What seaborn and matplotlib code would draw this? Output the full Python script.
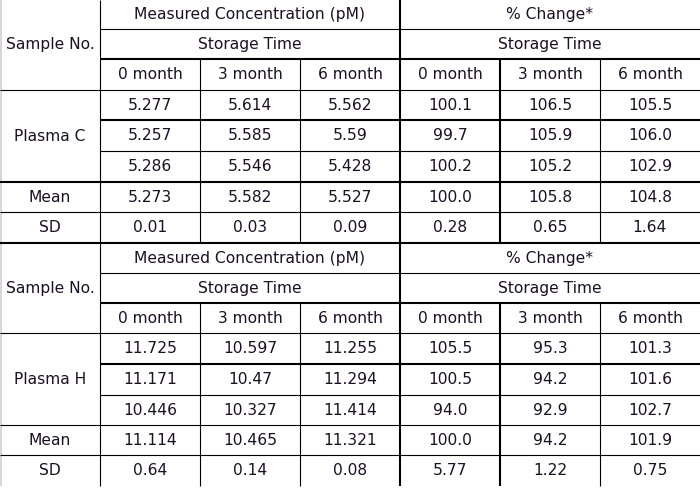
import matplotlib
matplotlib.use("Agg")
import matplotlib.pyplot as plt
import seaborn as sns

# Table content
months = ["0 month", "3 month", "6 month"]
group_titles = ["Measured Concentration (pM)", "% Change*"]
sub_title = "Storage Time"
row_labels = ["Mean", "SD"]

plasma_names = ["Plasma C", "Plasma H"]

conc_c = [["5.277", "5.614", "5.562"],
          ["5.257", "5.585", "5.59"],
          ["5.286", "5.546", "5.428"]]
change_c = [["100.1", "106.5", "105.5"],
            ["99.7", "105.9", "106.0"],
            ["100.2", "105.2", "102.9"]]
mean_c = ["5.273", "5.582", "5.527", "100.0", "105.8", "104.8"]
sd_c = ["0.01", "0.03", "0.09", "0.28", "0.65", "1.64"]

conc_h = [["11.725", "10.597", "11.255"],
          ["11.171", "10.47", "11.294"],
          ["10.446", "10.327", "11.414"]]
change_h = [["105.5", "95.3", "101.3"],
            ["100.5", "94.2", "101.6"],
            ["94.0", "92.9", "102.7"]]
mean_h = ["11.114", "10.465", "11.321", "100.0", "94.2", "101.9"]
sd_h = ["0.64", "0.14", "0.08", "5.77", "1.22", "0.75"]

blocks = [
    (plasma_names[0], conc_c, change_c, mean_c, sd_c),
    (plasma_names[1], conc_h, change_h, mean_h, sd_h),
]

# layout (pixels)
col_edges = [0, 100, 200, 300, 400, 500, 600, 700]
block_rows = [[0, 29, 59, 90, 120, 151, 182, 212, 243],
              [243, 273, 303, 333, 364, 395, 425, 455, 486]]

sns.set_theme(style="white")
plt.rcParams["font.family"] = ["DejaVu Sans"]

fig = plt.figure(figsize=(7, 4.9), dpi=100)
ax = fig.add_axes([0, 0, 1, 1])
ax.set_xlim(0, 700)
ax.set_ylim(490, 0)
ax.axis("off")

fs = 11.2
tc = "#1c1024"
thin = 0.8
thick = 1.5
lc = "black"


def mid(a, b):
    return (a + b) / 2


def put(x, y, s):
    ax.text(x, y, s, ha="center", va="center", fontsize=fs, color=tc)


# faint left edge
ax.vlines(0.5, 0, 486, color="#cfcfcf", lw=1.2)

for (name, conc, change, mean, sd), r in zip(blocks, block_rows):
    top, bot = r[0], r[-1]
    # header texts
    put(mid(col_edges[0], col_edges[1]), mid(r[0], r[3]), "Sample No.")
    put(mid(col_edges[1], col_edges[4]), mid(r[0], r[1]), group_titles[0])
    put(mid(col_edges[4], col_edges[7]), mid(r[0], r[1]), group_titles[1])
    put(mid(col_edges[1], col_edges[4]), mid(r[1], r[2]), sub_title)
    put(mid(col_edges[4], col_edges[7]), mid(r[1], r[2]), sub_title)
    for k in range(6):
        put(mid(col_edges[k + 1], col_edges[k + 2]), mid(r[2], r[3]), months[k % 3])
    # sample rows
    put(mid(col_edges[0], col_edges[1]), mid(r[3], r[6]), name)
    for i in range(3):
        vals = conc[i] + change[i]
        for k, v in enumerate(vals):
            put(mid(col_edges[k + 1], col_edges[k + 2]), mid(r[3 + i], r[4 + i]), v)
    # mean / sd
    for j, (lab, vals) in enumerate(zip(row_labels, [mean, sd])):
        yy = mid(r[6 + j], r[7 + j])
        put(mid(col_edges[0], col_edges[1]), yy, lab)
        for k, v in enumerate(vals):
            put(mid(col_edges[k + 1], col_edges[k + 2]), yy, v)

    # horizontal rules
    ax.hlines(r[1], 100, 700, color=lc, lw=thin)
    ax.hlines(r[2], 100, 700, color=lc, lw=thick)
    ax.hlines(r[3], 0, 700, color=lc, lw=thin)
    ax.hlines(r[4], 100, 700, color=lc, lw=thick)
    ax.hlines(r[5], 100, 700, color=lc, lw=thin)
    ax.hlines(r[6], 0, 700, color=lc, lw=thick if top == 0 else thin)
    ax.hlines(r[7], 0, 700, color=lc, lw=thin)
    if top == 0:
        ax.hlines(bot, 0, 700, color=lc, lw=thick)

    # vertical rules
    ax.vlines(100, top, bot, color=lc, lw=thin)
    ax.vlines(400, top, bot, color=lc, lw=thick)
    ax.vlines(200, r[2], bot, color=lc, lw=thin)
    ax.vlines(300, r[2], bot, color=lc, lw=thin)
    ax.vlines(500, r[2], bot, color=lc, lw=thick)
    ax.vlines(600, r[2], bot, color=lc, lw=thin)

fig.savefig("out.png", dpi=100, facecolor="white")
